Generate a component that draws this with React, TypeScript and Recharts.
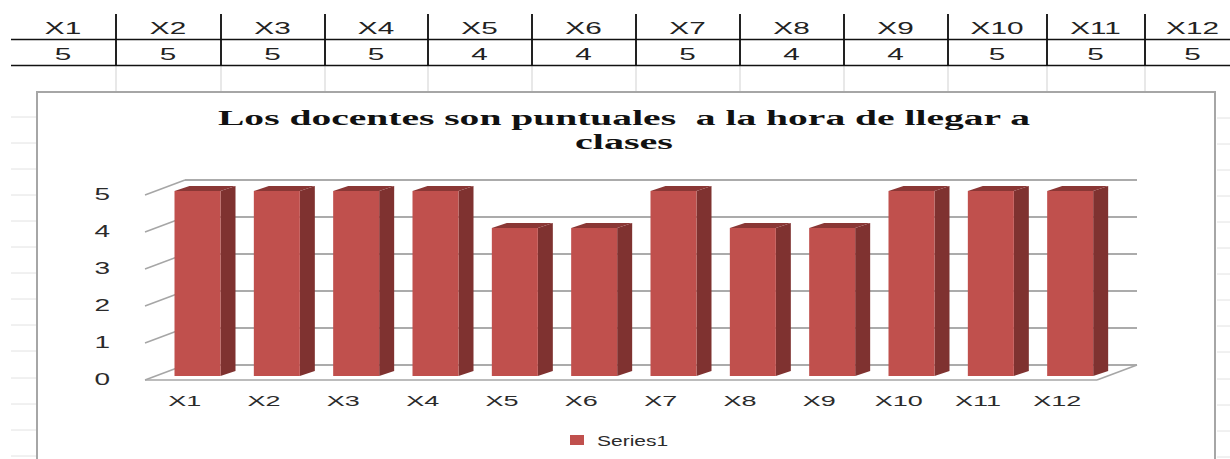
import { BarChart, Bar, XAxis, YAxis, CartesianGrid, Legend } from 'recharts'

const categories = ['X1', 'X2', 'X3', 'X4', 'X5', 'X6', 'X7', 'X8', 'X9', 'X10', 'X11', 'X12']
const values = [5, 5, 5, 5, 4, 4, 5, 4, 4, 5, 5, 5]
const yTicks = [0, 1, 2, 3, 4, 5]
const titleLines = ['Los docentes son puntuales  a la hora de llegar a', 'clases']
const seriesName = 'Series1'

const data = categories.map((name, i) => ({ name, value: values[i] }))

// spreadsheet layout behind the chart
const columnEdges = [11, 116, 221, 325, 428, 532, 636, 740, 844, 948, 1047, 1145, 1240]
const sheetRows = [117, 143, 169, 195, 221, 247, 273, 299, 325, 351, 378, 404, 430, 456]

// depth of the fake 3D floor and of the bars
const FLOOR_DX = 40
const FLOOR_DY = -15
const BAR_SHIFT_X = 12.5
const BAR_SHIFT_Y = -4
const BAR_DX = 15
const BAR_DY = -5

const TEXT = '#2b2b2b'
const SANS = '"Liberation Sans", Arial, sans-serif'

function Bar3D({ x, y, width, height }: any) {
  const l = x + BAR_SHIFT_X
  const r = l + width
  const t = y + BAR_SHIFT_Y
  const b = t + height
  return (
    <g>
      <path d={`M${r},${t} L${r + BAR_DX},${t + BAR_DY} L${r + BAR_DX},${b + BAR_DY} L${r},${b} Z`} fill="#7f3230" />
      <path d={`M${l},${t} L${l + BAR_DX},${t + BAR_DY} L${r + BAR_DX},${t + BAR_DY} L${r},${t} Z`} fill="#8a3735" />
      <rect x={l} y={t} width={width} height={height} fill="#c0504d" />
    </g>
  )
}

// gridlines sit on the back wall, each with a slanted stub on the side wall
function GridLine({ x1, x2, y1, index }: any) {
  const isFloor = index === 0
  return (
    <g fill="none">
      <line x1={x1} y1={y1} x2={x1 + FLOOR_DX} y2={y1 + FLOOR_DY} stroke="#a6a6a6" strokeWidth={1.5} />
      <line x1={x1 + FLOOR_DX} y1={y1 + FLOOR_DY} x2={x2 + FLOOR_DX} y2={y1 + FLOOR_DY} stroke="#8f8f8f" strokeWidth={1.5} />
      {isFloor && <line x1={x2} y1={y1} x2={x2 + FLOOR_DX} y2={y1 + FLOOR_DY} stroke="#a6a6a6" strokeWidth={1.5} />}
    </g>
  )
}

function XTick({ x, y, payload }: any) {
  return (
    <text transform={`translate(${x},${y + 18}) scale(1.8,1)`} textAnchor="middle" fontFamily={SANS} fontSize={15} fill={TEXT}>
      {payload.value}
    </text>
  )
}

function YTick({ x, y, payload }: any) {
  return (
    <text transform={`translate(${x - 27},${y + 5}) scale(1.75,1)`} textAnchor="end" fontFamily={SANS} fontSize={16} fill={TEXT}>
      {payload.value}
    </text>
  )
}

function LegendBox() {
  return (
    <svg width={110} height={20} style={{ display: 'block' }}>
      <rect x={0} y={4} width={14} height={10} fill="#c0504d" />
      <text transform="translate(27,15) scale(1.4,1)" fontFamily={SANS} fontSize={15} fill={TEXT}>
        {seriesName}
      </text>
    </svg>
  )
}

function Sheet() {
  return (
    <svg width={1230} height={459} style={{ position: 'absolute', left: 0, top: 0 }}>
      {sheetRows.map((y) => (
        <g key={y} stroke="#e2e2e2" strokeWidth={1}>
          <line x1={11} y1={y} x2={37} y2={y} />
          <line x1={1217} y1={y + 1} x2={1230} y2={y + 1} />
        </g>
      ))}
      {columnEdges.slice(1, -1).map((x) => (
        <g key={x}>
          <line x1={x} y1={65} x2={x} y2={92} stroke="#e0e0e0" strokeWidth={1.5} />
          <line x1={x} y1={14} x2={x} y2={65} stroke="#222" strokeWidth={2} />
        </g>
      ))}
      <line x1={11} y1={39.5} x2={1230} y2={39.5} stroke="#111" strokeWidth={1.5} />
      <line x1={11} y1={65.5} x2={1230} y2={65.5} stroke="#111" strokeWidth={1.5} />
      {categories.map((name, i) => {
        const cx = (columnEdges[i] + columnEdges[i + 1]) / 2 - (i === 11 ? 0 : 0.5)
        return (
          <g key={name} fontFamily={SANS} fontSize={17} fill="#222" textAnchor="middle">
            <text transform={`translate(${cx},${34}) scale(1.75,1)`}>{name}</text>
            <text transform={`translate(${cx},${60}) scale(1.75,1)`}>{values[i]}</text>
          </g>
        )
      })}
      <rect x={37} y={92} width={1178} height={400} fill="#fff" stroke="#a6a6a6" strokeWidth={2} />
      <g fontFamily='"Liberation Serif", serif' fontWeight="bold" fontSize={20} fill="#111">
        <text x={218} y={125} textLength={812} lengthAdjust="spacingAndGlyphs" style={{ whiteSpace: 'pre' }}>
          {titleLines[0]}
        </text>
        <text x={575} y={149} textLength={98} lengthAdjust="spacingAndGlyphs">
          {titleLines[1]}
        </text>
      </g>
    </svg>
  )
}

export default function App() {
  return (
    <div style={{ position: 'fixed', left: 0, top: 0, width: 1230, height: 459, overflow: 'hidden', background: '#fff' }}>
      <Sheet />
      <div style={{ position: 'absolute', left: 0, top: 0 }}>
        <BarChart width={1230} height={459} data={data} margin={{ top: 195, right: 133, bottom: 39, left: 85 }}>
          <CartesianGrid vertical={false} horizontal={(props: any) => <GridLine key={props.key} {...props} />} />
          <XAxis dataKey="name" height={40} interval={0} axisLine={{ stroke: '#a6a6a6', strokeWidth: 1.5 }} tickLine={false} tick={<XTick />} />
          <YAxis width={60} domain={[0, 5]} ticks={yTicks} axisLine={false} tickLine={false} tick={<YTick />} />
          <Legend
            layout="horizontal"
            verticalAlign="middle"
            content={<LegendBox />}
            wrapperStyle={{ left: 570, top: 431, width: 110, height: 20 }}
          />
          <Bar dataKey="value" name={seriesName} barSize={46} isAnimationActive={false} shape={<Bar3D />} />
        </BarChart>
      </div>
    </div>
  )
}
